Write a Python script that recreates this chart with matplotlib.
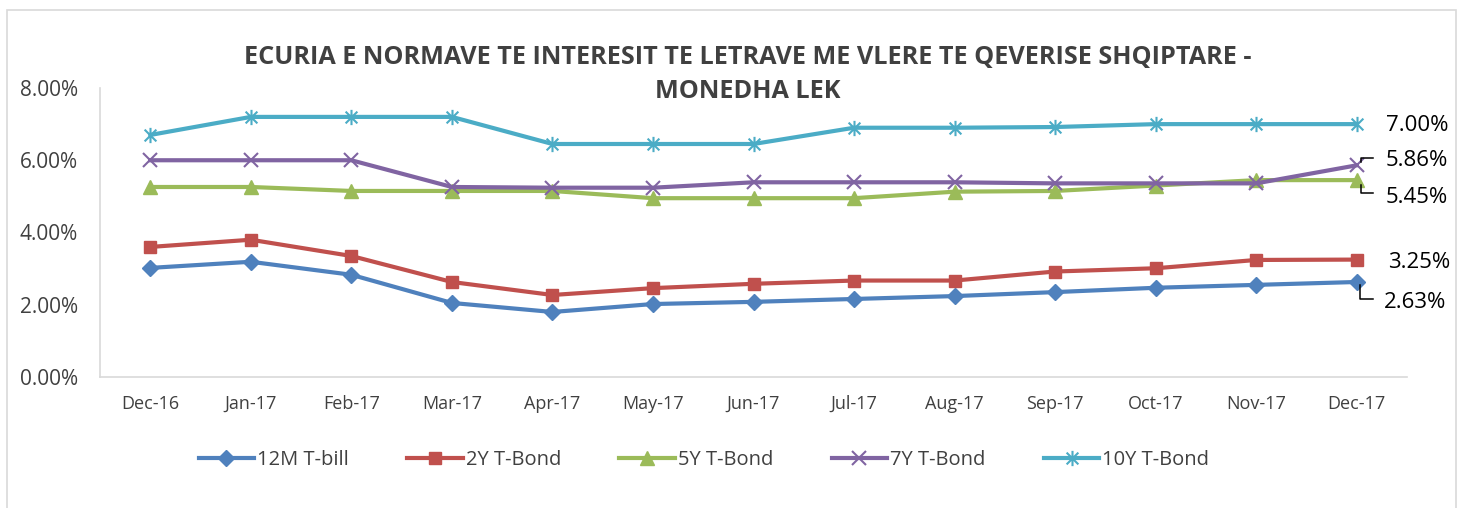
import numpy as np
import matplotlib
matplotlib.use("Agg")
import matplotlib.pyplot as plt
from matplotlib.path import Path
from matplotlib.patches import Rectangle
from matplotlib.lines import Line2D

plt.rcParams['font.family'] = ['Open Sans', 'DejaVu Sans']

months = ["Dec-16", "Jan-17", "Feb-17", "Mar-17", "Apr-17", "May-17", "Jun-17",
          "Jul-17", "Aug-17", "Sep-17", "Oct-17", "Nov-17", "Dec-17"]

t_bill_12m = [3.02, 3.19, 2.83, 2.05, 1.80, 2.02, 2.08, 2.16, 2.24, 2.35, 2.47, 2.55, 2.63]
bond_2y = [3.60, 3.80, 3.35, 2.63, 2.27, 2.46, 2.58, 2.67, 2.67, 2.92, 3.01, 3.24, 3.25]
bond_5y = [5.26, 5.26, 5.15, 5.15, 5.15, 4.95, 4.95, 4.95, 5.13, 5.15, 5.30, 5.45, 5.45]
bond_7y = [6.00, 6.00, 6.00, 5.26, 5.24, 5.24, 5.39, 5.39, 5.39, 5.36, 5.36, 5.36, 5.86]
bond_10y = [6.70, 7.20, 7.20, 7.20, 6.45, 6.45, 6.45, 6.90, 6.90, 6.92, 7.00, 7.00, 7.00]

series_names = ["12M T-bill", "2Y T-Bond", "5Y T-Bond", "7Y T-Bond", "10Y T-Bond"]

# asterisk marker like Excel: X plus vertical bar
ast = Path([(-1, -1), (1, 1), (-1, 1), (1, -1), (0, -1.3), (0, 1.3)],
           [Path.MOVETO, Path.LINETO, Path.MOVETO, Path.LINETO, Path.MOVETO, Path.LINETO])

styles = [
    dict(color="#4F81BD", marker="D", ms=8.5),
    dict(color="#C0504D", marker="s", ms=9),
    dict(color="#9BBB59", marker="^", ms=10),
    dict(color="#8064A2", marker="x", ms=10, mew=1.5),
    dict(color="#4BACC6", marker=ast, ms=11, mew=1.5),
]

fig = plt.figure(figsize=(14.63, 5.08), dpi=100)
W, H = 1463, 508
ax = fig.add_axes([100 / W, 1 - 377 / H, 1307 / W, 289 / H])

fig.patches.append(Rectangle((7 / W, -0.05), 1449 / W, 1.05 - 10 / H, transform=fig.transFigure,
                             fill=False, edgecolor="#D9D9D9", lw=1.2))

x = np.arange(len(months))
all_series = [t_bill_12m, bond_2y, bond_5y, bond_7y, bond_10y]
for vals, name, st in zip(all_series, series_names, styles):
    ax.plot(x, vals, lw=3, label=name, **st)

ax.set_xlim(-0.5, len(months) - 0.5)
ax.set_ylim(0, 8)
ax.set_yticks([0, 2, 4, 6, 8])
ax.set_yticklabels([f"{v:.2f}%" for v in [0, 2, 4, 6, 8]])
ax.set_xticks(x)
ax.set_xticklabels(months)
ax.tick_params(axis="y", length=0, pad=16, labelsize=15, labelcolor="#404040")
ax.tick_params(axis="x", length=0, pad=13, labelsize=13, labelcolor="#404040")
for s in ["top", "right"]:
    ax.spines[s].set_visible(False)
for s in ["left", "bottom"]:
    ax.spines[s].set_color("#D9D9D9")
    ax.spines[s].set_linewidth(1.2)

fig.text(748 / W, 1 - 58 / H, "ECURIA E NORMAVE TE INTERESIT TE LETRAVE ME VLERE TE QEVERISE SHQIPTARE -",
         ha="center", va="center", fontsize=18.2, fontweight="bold", color="#404040")
fig.text(748 / W, 1 - 91 / H, "MONEDHA LEK",
         ha="center", va="center", fontsize=18.2, fontweight="bold", color="#404040")

# data labels at the last point (offsets in pixels, y up)
last = len(months) - 1
label_offsets = [(27, -21), (31, -3), (29, -17), (29, 4.5), (29, -1)]
leaders = {
    0: [(3, -3), (3, -17), (16, -17)],
    2: [(4, -5), (4, -13), (16, -13)],
    3: [(4, 3.5), (4, 7.5), (16, 7.5)],
}
for i, vals in enumerate(all_series):
    dx, dy = label_offsets[i]
    ax.annotate(f"{vals[last]:.2f}%", xy=(last, vals[last]), xytext=(dx, dy),
                textcoords="offset pixels", ha="left", va="center",
                fontsize=16, color="black", annotation_clip=False)
    if i in leaders:
        px, py = ax.transData.transform((last, vals[last]))
        xs = [px + p[0] for p in leaders[i]]
        ys = [py + p[1] for p in leaders[i]]
        fig.lines.append(Line2D(xs, ys, transform=None, color="black", lw=1.1))

ax.legend(loc="center", bbox_to_anchor=(704 / W, 1 - 460 / H), bbox_transform=fig.transFigure,
          ncol=5, frameon=False, fontsize=14.5, handlelength=2.75, columnspacing=2.9,
          handletextpad=0.15, labelcolor="#404040")

fig.savefig("out.png", dpi=100)
